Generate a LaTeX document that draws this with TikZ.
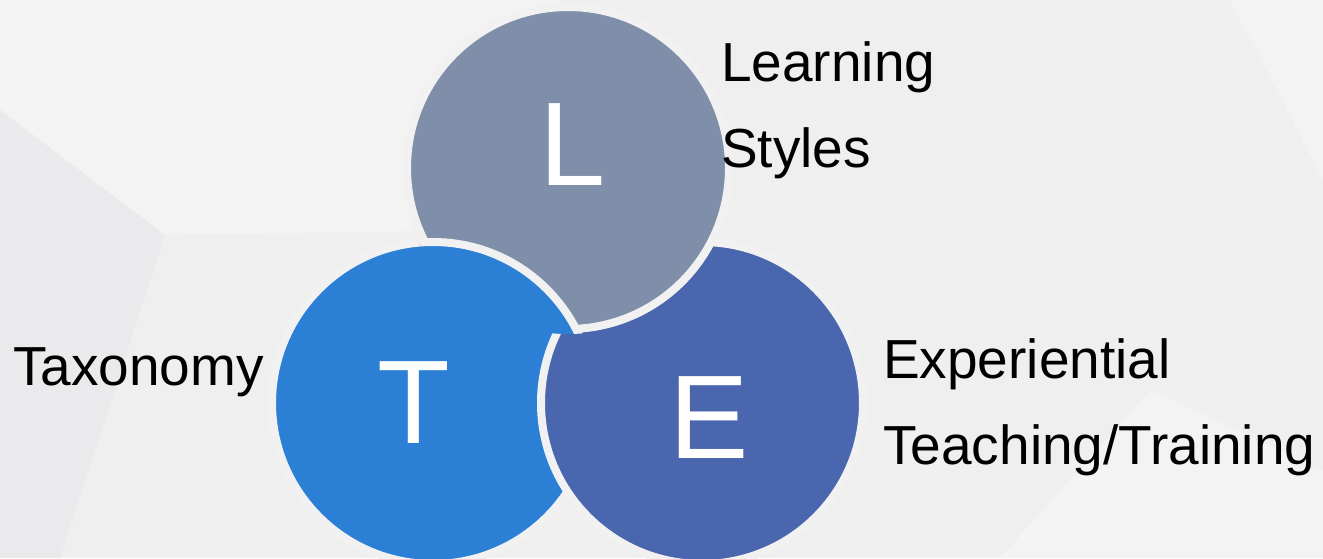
\documentclass[tikz,border=0pt]{standalone}
\usepackage{fontspec}
\setmainfont{Liberation Sans}
\usetikzlibrary{positioning}
\definecolor{bgbase}{HTML}{EFEFEF}
\definecolor{bglight}{HTML}{F3F3F3}
\definecolor{bgdark}{HTML}{EAEAEC}
\definecolor{gapgray}{HTML}{F1F1F1}
\definecolor{lgray}{HTML}{808FA9}
\definecolor{tblue}{HTML}{2B80D6}
\definecolor{eblue}{HTML}{4A66AE}

\begin{document}
\begin{tikzpicture}[x=1pt, y=-1pt,
        ring/.style={
            circle,
            draw=gapgray,
            line width=8pt,
            minimum size=322pt,
            inner sep=0pt
        },
        letter/.style={
            text=white,
            font=\fontsize{119}{119}\selectfont,
            inner sep=0pt,
            anchor=base
        },
        caption/.style={
            font=\fontsize{55}{86}\selectfont,
            align=left,
            inner sep=0pt,
            anchor=base west
        }
    ]

    % background
    \fill[bgbase] (0,0) rectangle (1323,558);
    \useasboundingbox (0,0) rectangle (1323,558);
    \fill[bglight] (0,0) -- (560,0) -- (480,230) -- (165,235) -- (0,110) -- cycle;
    \fill[bgdark] (0,110) -- (165,235) -- (60,558) -- (0,558) -- cycle;
    \fill[bglight] (1150,390) -- (1323,470) -- (1323,558) -- (1000,558) -- cycle;
    \fill[bglight] (1230,0) -- (1323,0) -- (1323,180) -- cycle;

    % circles
    \node (T) [ring, fill=tblue] at (433,403) {};
    \node (E) [ring, fill=eblue] at (702,403) {};
    \node (L) [ring, fill=lgray] at (568,168) {};

    % T lies over L
    \begin{scope}
        \clip (L.center) circle (166);
        \draw[draw=gapgray, line width=8pt, fill=tblue] (T.center) circle (161);
    \end{scope}

    % letters
    \node (Lletter) [letter] at (573,185) {L};
    \node (Tletter) [letter] at (414,443) {T};
    \node (Eletter) [letter] at (709,458) {E};

    % labels (anchored at the last line)
    \node (learning) [caption] at (721,167) {Learning\\Styles};
    \node (taxonomy) [caption] at (13,385) {Taxonomy};
    \node (experiential) [caption] at (883,464) {Experiential\\Teaching/Training};

\end{tikzpicture}
\end{document}
